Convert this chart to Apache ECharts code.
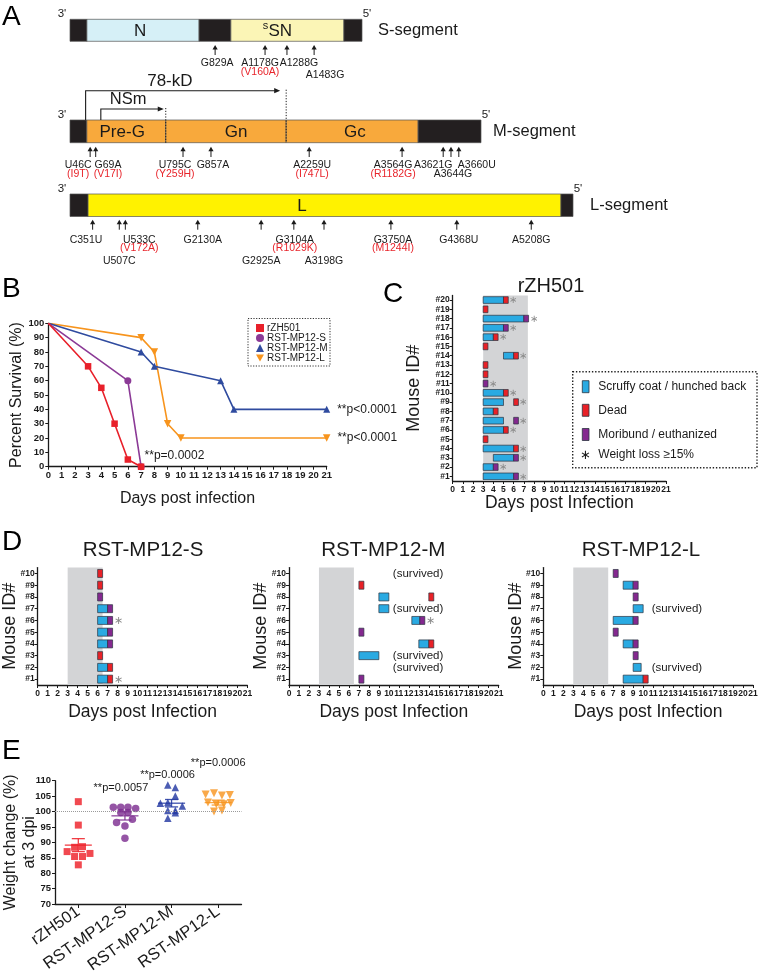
<!DOCTYPE html>
<html><head><meta charset="utf-8">
<script src="https://cdn.jsdelivr.net/npm/echarts@6/dist/echarts.min.js"></script>
<style>html,body{margin:0;padding:0;background:#fff}#c{width:760px;height:980px}</style>
</head><body><div id="c"></div>
<script>
// ================= DATA =================
// Panel A – genome schematic (positions: drawn position along each bar, % of bar length)
const sSegmentName = 'S-segment';
const sRegionNames = ['', 'N', '', 'sSN', ''];
const sRegionStart = [0, 5.8, 44.2, 55.1, 93.8];
const sRegionEnd   = [5.8, 44.2, 55.1, 93.8, 100];
const sMutations   = ['G829A', 'A1178G', 'A1288G', 'A1483G'];
const sMutationPos = [49.7, 66.8, 74.3, 83.6];
const sAminoAcid   = ['', '(V160A)', '', ''];

const mSegmentName = 'M-segment';
const mRegionNames = ['', 'Pre-G', 'Gn', 'Gc', ''];
const mRegionStart = [0, 4.1, 23.3, 52.6, 84.7];
const mRegionEnd   = [4.1, 23.3, 52.6, 84.7, 100];
const mMutations   = ['U46C', 'G69A', 'U795C', 'G857A', 'A2259U', 'A3564G', 'A3621G', 'A3644G', 'A3660U'];
const mMutationPos = [4.9, 6.25, 27.5, 34.3, 58.2, 80.8, 90.8, 92.7, 94.6];
const mAminoAcid   = ['(I9T)', '(V17I)', '(Y259H)', '', '(I747L)', '(R1182G)', '', '', ''];
const mProducts     = ['NSm', '78-kD'];
const mProductStart = [7.5, 3.8];
const mProductEnd   = [23.3, 52.6];

const lSegmentName = 'L-segment';
const lRegionNames = ['', 'L', ''];
const lRegionStart = [0, 3.6, 97.6];
const lRegionEnd   = [3.6, 97.6, 100];
const lMutations   = ['C351U', 'U507C', 'U533C', 'G2130A', 'G2925A', 'G3104A', 'A3198G', 'G3750A', 'G4368U', 'A5208G'];
const lMutationPos = [4.5, 9.8, 11.0, 25.4, 38.0, 44.5, 50.5, 63.8, 76.9, 91.7];
const lAminoAcid   = ['', '', '(V172A)', '', '', '(R1029K)', '', '(M1244I)', '', ''];

// Panel B – survival
const survivalGroups = ['rZH501', 'RST-MP12-S', 'RST-MP12-M', 'RST-MP12-L'];
const rzhDays = [0, 3, 4, 5, 6, 7];          const rzhSurvival = [100, 70, 55, 30, 5, 0];
const mp12sDays = [0, 6, 7];                 const mp12sSurvival = [100, 60, 0];
const mp12mDays = [0, 7, 8, 13, 14, 21];     const mp12mSurvival = [100, 80, 70, 60, 40, 40];
const mp12lDays = [0, 7, 8, 9, 10, 21];      const mp12lSurvival = [100, 90, 80, 30, 20, 20];
const survivalPValues = ['', '**p=0.0002', '**p<0.0001', '**p<0.0001'];
const dayTicks = [0, 21];

// Panel C – rZH501 clinical course (mouse #1 .. #20)
const cMouseIds  = ['#1','#2','#3','#4','#5','#6','#7','#8','#9','#10','#11','#12','#13','#14','#15','#16','#17','#18','#19','#20'];
const cSymStart  = [3, 3, 4, 3, null, 3, 3, 3, 3, 3, null, null, null, 5, null, 3, 3, 3, null, 3];
const cSymEnd    = [6, 4, 6, 6, null, 5, 5, 4, 5, 5, null, null, null, 6, null, 4, 5, 7, null, 5];
const cOutDay    = [6, 4, 6, 6, 3, 5, 6, 4, 6, 5, 3, 3, 3, 6, 3, 4, 5, 7, 3, 5];
const cOutcome   = ['M','M','M','D','D','D','M','D','D','D','M','D','D','D','D','D','M','M','D','D'];
const cWtLoss    = [1, 1, 1, 1, 0, 1, 1, 0, 1, 1, 1, 0, 0, 1, 0, 1, 1, 1, 0, 1];
const cShade     = [3, 7.4];

// Panel D – mouse #1 .. #10 for each reassortant
const dMouseIds = ['#1','#2','#3','#4','#5','#6','#7','#8','#9','#10'];
const dShade    = [3, 6.5];
const dsSymStart = [6, 6, null, 6, 6, 6, 6, null, null, null];
const dsSymEnd   = [7, 7, null, 7, 7, 7, 7, null, null, null];
const dsOutDay   = [7, 7, 6, 7, 7, 7, 7, 6, 6, 6];
const dsOutcome  = ['D','D','D','M','M','M','M','M','D','D'];
const dsWtLoss   = [1, 0, 0, 0, 0, 1, 0, 0, 0, 0];

const dmSymStart = [null, null, 7, 13, null, 12.3, 9, 9, null, null];
const dmSymEnd   = [null, null, 9, 14, null, 13.1, 10, 10, null, null];
const dmOutDay   = [7, null, null, 14, 7, 13.1, null, 14, 7, null];
const dmOutcome  = ['M','S','S','D','M','M','S','D','D','S'];
const dmWtLoss   = [0, 0, 0, 0, 0, 1, 0, 0, 0, 0];

const dlSymStart = [8, 9, null, 8, null, 7, 9, null, 8, null];
const dlSymEnd   = [10, 9.8, null, 9, null, 9, 10, null, 9, null];
const dlOutDay   = [10, null, 9, 9, 7, 9, null, 9, 9, 7];
const dlOutcome  = ['D','S','M','M','M','M','S','M','M','M'];
const dlWtLoss   = [0, 0, 0, 0, 0, 0, 0, 0, 0, 0];

// Panel E – weight change at 3 dpi
const eGroups = ['rZH501', 'RST-MP12-S', 'RST-MP12-M', 'RST-MP12-L'];
const eRzhWeight = [103.2, 95.6, 88.4, 88.6, 87.0, 86.4, 85.4, 85.4, 82.7];
const eRzhJitter = [0, 0, -0.08, 0.09, -0.24, 0.25, -0.08, 0.09, 0];
const eSWeight = [101.4, 101.4, 101.4, 101.0, 99.7, 99.7, 96.4, 97.5, 95.3, 91.3];
const eSJitter = [-0.25, -0.09, 0.065, 0.23, -0.09, 0.065, -0.18, 0.16, 0, 0];
const eMWeight = [108.6, 107.8, 105.0, 102.7, 102.9, 101.8, 100.3, 100.3, 99.6, 97.8];
const eMJitter = [-0.08, 0.08, 0.08, -0.24, -0.08, 0.23, -0.08, 0.08, 0.08, -0.08];
const eLWeight = [105.5, 105.9, 105.2, 105.4, 102.9, 102.4, 102.4, 102.8, 100.0, 100.3];
const eLJitter = [-0.27, -0.09, 0.08, 0.25, -0.22, -0.04, 0.12, 0.27, -0.09, 0.08];
const eMean = [89.1, 98.6, 102.7, 102.9];
const eSem  = [2.1, 1.35, 1.2, 0.8];
const ePValues = ['', '**p=0.0057', '**p=0.0006', '**p=0.0006'];
const eReference = 100;

// ================= STYLE / LAYOUT =================
const FONT = "'Liberation Sans', Arial, Helvetica, sans-serif";
const INK = '#1a1a1a';
const RED = '#e8202a', PURPLE = '#8b3a96', BLUE = '#2f4b9f', ORANGE = '#f7941d';
const E_COLORS = ['#ed1c24', '#7b2a8e', '#1f35a0', '#f7941d'];
const C_BLUE = '#2aaae2', C_RED = '#e82127', C_PURPLE = '#84288f', C_EDGE = '#2b3440';

const segLayout = {
  S: {gi: 0, fills: ['#231f20', '#d6f0f7', '#231f20', '#fbf5b6', '#231f20'], labelAt: [0, 24, 0, 72, 0],
      dx: [2, -5, 12, 11], row: [0, 0, 0, 1], rowDy: [21.7, 33.7], redDy: 30.7, tip: 3.7, tail: 13.7, nameDx: 16},
  M: {gi: 1, fills: ['#231f20', '#f8a93c', '#f8a93c', '#f8a93c', '#231f20'], labelAt: [0, 12.7, 40.4, 69.3, 0],
      dx: [-12, 12.3, -8, 2, 3, -9, -10, 2, 18], row: [0, 0, 0, 0, 0, 0, 0, 1, 0], rowDy: [22.3, 31.3], redDy: 31.3, tip: 4, tail: 14.3, nameDx: 12,
      rise: [11, 29.3], tipGap: [2, 6]},
  L: {gi: 2, fills: ['#231f20', '#fff200', '#231f20'], labelAt: [0, 46.1, 0],
      dx: [-6.6, 0, 14, 5, 0, 1, 0, 2, 2, 0], row: [0, 1, 0, 0, 1, 0, 1, 0, 0, 0], rowDy: [23.5, 45], redDy: 32, tip: 3.2, tail: 13.2, nameDx: 17}
};

function txt(x, y, text, size, o) {
  return Object.assign({type: 'text', x, y, style: Object.assign({text, fontSize: size, fontFamily: FONT, fill: INK, align: 'center', verticalAlign: 'middle'}, o || {})});
}

function segSeries(L, names, starts, ends, segName) {
  return {
    type: 'custom', xAxisIndex: L.gi, yAxisIndex: L.gi, silent: true, clip: false, z: 2,
    encode: {x: 0, y: 2},
    data: starts.map((s, i) => [s, ends[i], 0.5]),
    renderItem(params, api) {
      const i = params.dataIndex;
      const a = api.coord([api.value(0), 1]), b = api.coord([api.value(1), 0]);
      const ch = [{type: 'rect', shape: {x: a[0], y: a[1], width: b[0] - a[0], height: b[1] - a[1]},
                   style: {fill: L.fills[i], stroke: '#555', lineWidth: 0.7}}];
      const nm = names[i];
      if (nm) {
        const c = api.coord([L.labelAt[i], 0.5]);
        if (/^s[A-Z]/.test(nm)) {
          ch.push(txt(c[0], c[1] + 1, nm.slice(1), 17));
          ch.push(txt(c[0] - 12, c[1] - 4, nm[0], 11, {align: 'right'}));
        } else ch.push(txt(c[0], c[1] + 1, nm, 17));
      }
      if (i === 0) { const p = api.coord([0, 1]); ch.push(txt(p[0] - 8, p[1] - 5.5, "3'", 11.5)); }
      if (i === starts.length - 1) {
        const p = api.coord([100, 1]); ch.push(txt(p[0] + 5, p[1] - 5.5, "5'", 11.5));
        const q = api.coord([100, 0.5]); ch.push(txt(q[0] + L.nameDx, q[1], segName, 16.5, {align: 'left'}));
      }
      return {type: 'group', children: ch};
    }
  };
}

function mutSeries(L, pos, names, aa) {
  return {
    type: 'custom', xAxisIndex: L.gi, yAxisIndex: L.gi, silent: true, clip: false, z: 3,
    encode: {x: 0, y: 1},
    data: pos.map(p => [p, 0]),
    renderItem(params, api) {
      const i = params.dataIndex;
      const p = api.coord([api.value(0), 0]);
      const x = p[0], y0 = p[1];
      const ch = [
        {type: 'line', shape: {x1: x, y1: y0 + L.tip + 3, x2: x, y2: y0 + L.tail}, style: {stroke: INK, lineWidth: 1}},
        {type: 'polygon', shape: {points: [[x - 2.6, y0 + L.tip + 4.5], [x + 2.6, y0 + L.tip + 4.5], [x, y0 + L.tip]]}, style: {fill: INK}},
        txt(x + L.dx[i], y0 + L.rowDy[L.row[i]], names[i], 10.5)
      ];
      if (aa[i]) ch.push(txt(x + L.dx[i], y0 + L.redDy, aa[i], 10.5, {fill: '#e8242b'}));
      return {type: 'group', children: ch};
    }
  };
}

function productSeries(L, names, starts, ends) {
  return {
    type: 'custom', xAxisIndex: L.gi, yAxisIndex: L.gi, silent: true, clip: false, z: 4,
    encode: {x: 0, y: 2},
    data: starts.map((s, i) => [s, ends[i], 1]),
    renderItem(params, api) {
      const i = params.dataIndex;
      const a = api.coord([api.value(0), 1]), b = api.coord([api.value(1), 1]), bb = api.coord([api.value(1), 0]);
      const yh = a[1] - L.rise[i];
      const xt = b[0] - L.tipGap[i];
      return {type: 'group', children: [
        {type: 'polyline', shape: {points: [[a[0], a[1]], [a[0], yh], [xt - 5, yh]]}, style: {stroke: INK, lineWidth: 1.1, fill: 'none'}},
        {type: 'polygon', shape: {points: [[xt - 6, yh - 2.6], [xt - 6, yh + 2.6], [xt, yh]]}, style: {fill: INK}},
        {type: 'line', shape: {x1: b[0], y1: yh - 1, x2: b[0], y2: bb[1]}, style: {stroke: INK, lineWidth: 1, lineDash: [1.2, 1.6]}},
        txt(a[0] + (b[0] - a[0]) * 0.42, yh - 9.5, names[i], i === 0 ? 16.5 : 17)
      ]};
    }
  };
}

// ---------- axes helpers ----------
const axLine = {show: true, onZero: false, lineStyle: {color: INK, width: 1.3}};
const axTick = {show: true, length: 3, lineStyle: {color: INK, width: 1}};
function dayAxis(gi, name, gap, labelSize, nameSize) {
  return {type: 'value', gridIndex: gi, min: dayTicks[0], max: dayTicks[1], interval: 1,
    name, nameLocation: 'middle', nameGap: gap, nameMoveOverlap: false, nameTextStyle: {fontSize: nameSize, color: INK, fontFamily: FONT},
    axisLine: axLine, axisTick: axTick, splitLine: {show: false},
    axisLabel: {fontSize: labelSize, fontWeight: 'bold', color: INK, fontFamily: FONT, margin: 4, showMinLabel: true, showMaxLabel: true}};
}
function mouseAxis(gi, ids, gap) {
  return {type: 'category', gridIndex: gi, data: ids, name: 'Mouse ID#', nameLocation: 'middle', nameGap: gap, nameMoveOverlap: false,
    nameTextStyle: {fontSize: 18, color: INK, fontFamily: FONT},
    axisLine: axLine, axisTick: {show: true, length: 3, alignWithLabel: true, lineStyle: {color: INK}},
    axisLabel: {fontSize: 8.5, fontWeight: 'bold', color: INK, fontFamily: FONT, margin: 3, interval: 0}};
}

function shadeSeries(gi, range) {
  return {type: 'custom', xAxisIndex: gi, yAxisIndex: gi, silent: true, z: 1, encode: {x: 0, y: 1},
    data: [[range[0], 0, range[1]]],
    renderItem(params, api) {
      const cs = params.coordSys;
      const x0 = api.coord([api.value(0), 0])[0], x1 = api.coord([api.value(2), 0])[0];
      return {type: 'rect', shape: {x: x0, y: cs.y, width: x1 - x0, height: cs.height}, style: {fill: '#d3d4d6'}};
    }};
}

function mouseSeries(gi, symStart, symEnd, outDay, outcome, wt, survivedAt, o) {
  const data = outcome.map((oc, i) => [symStart[i] != null ? symStart[i] : (outDay[i] != null ? outDay[i] : survivedAt), i]);
  return {type: 'custom', xAxisIndex: gi, yAxisIndex: gi, silent: true, clip: false, z: 3, encode: {x: 0, y: 1}, data,
    renderItem(params, api) {
      const i = params.dataIndex;
      const band = api.size([0, 1])[1];
      const h = band * o.barFrac;
      const yc = api.coord([0, i])[1];
      const ch = [];
      let endX = null;
      if (symStart[i] != null) {
        const x0 = api.coord([symStart[i], i])[0], x1 = api.coord([symEnd[i], i])[0];
        ch.push({type: 'rect', shape: {x: x0, y: yc - h / 2, width: x1 - x0, height: h}, style: {fill: C_BLUE, stroke: C_EDGE, lineWidth: 0.7}});
        endX = x1;
      }
      if (outcome[i] === 'D' || outcome[i] === 'M') {
        const x0 = api.coord([outDay[i], i])[0], x1 = api.coord([outDay[i] + o.block, i])[0];
        ch.push({type: 'rect', shape: {x: x0, y: yc - h / 2, width: x1 - x0, height: h},
                 style: {fill: outcome[i] === 'D' ? C_RED : C_PURPLE, stroke: C_EDGE, lineWidth: 0.7}});
        endX = x1;
      }
      if (wt[i] && endX != null) ch.push(txt(endX + o.astGap, yc + 0.5, '\u2217', o.astSize, {fill: '#8a8a8a', align: 'left'}));
      if (outcome[i] === 'S') {
        const p = api.coord([survivedAt, i]);
        ch.push(txt(p[0], yc, '(survived)', 11.5, {align: 'left'}));
      }
      return {type: 'group', children: ch};
    }};
}

const downTri = 'path://M0,0L10,0L5,9Z';

// ---------- grids ----------
const grids = [
  {left: 70, top: 19.3, width: 292, height: 22},
  {left: 70, top: 120, width: 411, height: 22.7},
  {left: 70, top: 194, width: 503, height: 22.5},
  {left: 48.3, top: 323.3, width: 278.4, height: 143.4},
  {left: 452.7, top: 295.4, width: 213.3, height: 185.6},
  {left: 37.7, top: 567.6, width: 209.7, height: 117.4},
  {left: 289, top: 567.6, width: 209.7, height: 117.4},
  {left: 543.3, top: 567.6, width: 209.7, height: 117.4},
  {left: 55, top: 780.7, width: 186.5, height: 123.3}
].map(g => Object.assign(g, {containLabel: false, outerBoundsMode: 'none'}));

const xAxes = [
  {type: 'value', gridIndex: 0, min: 0, max: 100, show: false},
  {type: 'value', gridIndex: 1, min: 0, max: 100, show: false},
  {type: 'value', gridIndex: 2, min: 0, max: 100, show: false},
  dayAxis(3, 'Days post infection', 24, 9.5, 16),
  dayAxis(4, 'Days post Infection', 13, 8.5, 17.5),
  dayAxis(5, 'Days post Infection', 18.5, 8.5, 17.5),
  dayAxis(6, 'Days post Infection', 18.5, 8.5, 17.5),
  dayAxis(7, 'Days post Infection', 18.5, 8.5, 17.5),
  {type: 'category', gridIndex: 8, data: eGroups, axisLine: axLine,
   axisTick: {show: true, length: 4, alignWithLabel: true, lineStyle: {color: INK}},
   axisLabel: {rotate: 35, fontSize: 16.5, color: INK, fontFamily: FONT, margin: 6, interval: 0}},
  {type: 'value', gridIndex: 8, min: -0.5, max: 3.5, show: false, axisLine: {onZero: false}}
];
const yAxes = [
  {type: 'value', gridIndex: 0, min: 0, max: 1, show: false},
  {type: 'value', gridIndex: 1, min: 0, max: 1, show: false},
  {type: 'value', gridIndex: 2, min: 0, max: 1, show: false},
  {type: 'value', gridIndex: 3, min: 0, max: 100, interval: 10, name: 'Percent Survival (%)', nameLocation: 'middle', nameGap: 24, nameMoveOverlap: false,
   nameTextStyle: {fontSize: 16, color: INK, fontFamily: FONT}, axisLine: axLine, axisTick: axTick, splitLine: {show: false},
   axisLabel: {fontSize: 9.5, fontWeight: 'bold', color: INK, fontFamily: FONT, margin: 4}},
  mouseAxis(4, cMouseIds, 30),
  mouseAxis(5, dMouseIds, 18.5),
  mouseAxis(6, dMouseIds, 18.5),
  mouseAxis(7, dMouseIds, 18.5),
  {type: 'value', gridIndex: 8, min: 70, max: 110, interval: 5, name: 'Weight change (%)\nat 3 dpi', nameLocation: 'middle', nameGap: 15.5, nameMoveOverlap: false,
   nameTextStyle: {fontSize: 16, lineHeight: 19, color: INK, fontFamily: FONT, align: 'center'}, axisLine: axLine, axisTick: axTick, splitLine: {show: false},
   axisLabel: {fontSize: 9.5, fontWeight: 'bold', color: INK, fontFamily: FONT, margin: 4}}
];

// ---------- survival series ----------
function survSeries(name, days, surv, color, symbol, size, pIdx, labelOpt) {
  return {type: 'line', name, xAxisIndex: 3, yAxisIndex: 3, color, symbol, symbolSize: size, showAllSymbol: true,
    lineStyle: {width: 1.6, color}, itemStyle: {color}, z: 5 - pIdx * 0.1,
    data: days.map((d, i) => {
      const item = {value: [d, surv[i]]};
      if (i === 0) item.symbol = 'none';
      if (i === days.length - 1 && survivalPValues[pIdx]) {
        item.label = Object.assign({show: true, formatter: survivalPValues[pIdx], fontSize: 12, color: INK, fontFamily: FONT}, labelOpt);
      }
      return item;
    })};
}

const series = [
  segSeries(segLayout.S, sRegionNames, sRegionStart, sRegionEnd, sSegmentName),
  mutSeries(segLayout.S, sMutationPos, sMutations, sAminoAcid),
  segSeries(segLayout.M, mRegionNames, mRegionStart, mRegionEnd, mSegmentName),
  mutSeries(segLayout.M, mMutationPos, mMutations, mAminoAcid),
  productSeries(segLayout.M, mProducts, mProductStart, mProductEnd),
  segSeries(segLayout.L, lRegionNames, lRegionStart, lRegionEnd, lSegmentName),
  mutSeries(segLayout.L, lMutationPos, lMutations, lAminoAcid),

  survSeries(survivalGroups[1], mp12sDays, mp12sSurvival, PURPLE, 'circle', 7, 1, {position: 'right', distance: 0, offset: [0, -11]}),
  survSeries(survivalGroups[0], rzhDays, rzhSurvival, RED, 'rect', 6.5, 0, {}),
  survSeries(survivalGroups[2], mp12mDays, mp12mSurvival, BLUE, 'triangle', 7, 2, {position: 'right', distance: 7}),
  survSeries(survivalGroups[3], mp12lDays, mp12lSurvival, ORANGE, downTri, 7.5, 3, {position: 'right', distance: 7}),

  shadeSeries(4, cShade),
  mouseSeries(4, cSymStart, cSymEnd, cOutDay, cOutcome, cWtLoss, null, {barFrac: 0.72, block: 0.47, astGap: 1, astSize: 10}),
  shadeSeries(5, dShade),
  mouseSeries(5, dsSymStart, dsSymEnd, dsOutDay, dsOutcome, dsWtLoss, null, {barFrac: 0.68, block: 0.5, astGap: 1.5, astSize: 11}),
  shadeSeries(6, dShade),
  mouseSeries(6, dmSymStart, dmSymEnd, dmOutDay, dmOutcome, dmWtLoss, 10.4, {barFrac: 0.68, block: 0.5, astGap: 1.5, astSize: 11}),
  shadeSeries(7, dShade),
  mouseSeries(7, dlSymStart, dlSymEnd, dlOutDay, dlOutcome, dlWtLoss, 10.85, {barFrac: 0.68, block: 0.5, astGap: 1.5, astSize: 11}),
];

// ---------- panel E ----------
const eSets = [[eRzhWeight, eRzhJitter, 'rect', 7], [eSWeight, eSJitter, 'circle', 7.5], [eMWeight, eMJitter, 'triangle', 7.5], [eLWeight, eLJitter, downTri, 8]];
eSets.forEach((s, g) => {
  const ser = {type: 'scatter', xAxisIndex: 9, yAxisIndex: 8, symbol: s[2], symbolSize: s[3], itemStyle: {color: E_COLORS[g]}, z: 4,
    data: s[0].map((w, i) => [g + s[1][i], w])};
  if (g === 0) ser.markLine = {silent: true, symbol: 'none', label: {show: false}, animation: false,
    lineStyle: {type: 'dotted', color: '#9a9a9a', width: 1}, data: [{yAxis: eReference}]};
  series.push(ser);
});
series.push({type: 'custom', xAxisIndex: 9, yAxisIndex: 8, silent: true, z: 5,
  dimensions: ['grp', 'mean', 'sem'], encode: {x: 'grp', y: 'mean'},
  data: eMean.map((m, i) => [i, m, eSem[i]]),
  renderItem(params, api) {
    const i = params.dataIndex, x = api.value(0), m = api.value(1), s = api.value(2);
    const c = api.coord([x, m]), t = api.coord([x, m + s]), b = api.coord([x, m - s]);
    const bw = api.size([1, 0])[0];
    const st = {stroke: E_COLORS[i], lineWidth: 1.3, opacity: 0.85};
    return {type: 'group', children: [
      {type: 'line', shape: {x1: c[0] - bw * 0.29, y1: c[1], x2: c[0] + bw * 0.29, y2: c[1]}, style: st},
      {type: 'line', shape: {x1: c[0], y1: t[1], x2: c[0], y2: b[1]}, style: st},
      {type: 'line', shape: {x1: c[0] - bw * 0.14, y1: t[1], x2: c[0] + bw * 0.14, y2: t[1]}, style: st},
      {type: 'line', shape: {x1: c[0] - bw * 0.14, y1: b[1], x2: c[0] + bw * 0.14, y2: b[1]}, style: st}
    ]};
  }});
const ePLabelDy = [0, 7, -5.7, -18], ePLabelDx = [0, -4, -4, 0];
series.push({type: 'custom', xAxisIndex: 9, yAxisIndex: 8, silent: true, clip: false, z: 5, encode: {x: 0, y: 1},
  data: ePValues.map((p, i) => [i, 110]),
  renderItem(params, api) {
    const i = params.dataIndex;
    if (!ePValues[i]) return null;
    const c = api.coord([api.value(0), api.value(1)]);
    return txt(c[0] + ePLabelDx[i], c[1] + ePLabelDy[i], ePValues[i], 11);
  }});

// ---------- graphics: panel letters, titles, legends ----------
const G = [];
[['A', 2, 17], ['B', 2, 289], ['C', 383, 294], ['D', 2, 542], ['E', 2, 751]].forEach(l =>
  G.push({type: 'text', x: l[1], y: l[2], style: {text: l[0], fontSize: 28, fontFamily: FONT, fill: '#000', verticalAlign: 'middle'}}));
G.push({type: 'text', x: 551, y: 286, style: {text: 'rZH501', fontSize: 20, fontFamily: FONT, fill: INK, align: 'center', verticalAlign: 'middle'}});
[['RST-MP12-S', 143], ['RST-MP12-M', 383.3], ['RST-MP12-L', 641]].forEach(t =>
  G.push({type: 'text', x: t[1], y: 550, style: {text: t[0], fontSize: 20.5, fontFamily: FONT, fill: INK, align: 'center', verticalAlign: 'middle'}}));
// legend frame B
G.push({type: 'rect', shape: {x: 248, y: 318.5, width: 82, height: 47.5}, style: {fill: 'none', stroke: '#333', lineWidth: 1, lineDash: [1.2, 1.5]}});
// legend C
const cLegend = [['Scruffy coat / hunched back', C_BLUE, 386.7], ['Dead', C_RED, 410.3], ['Moribund / euthanized', C_PURPLE, 434.5]];
G.push({type: 'rect', shape: {x: 572.7, y: 371.7, width: 184.3, height: 96}, style: {fill: 'none', stroke: '#222', lineWidth: 1.4, lineDash: [1.4, 1.8]}});
cLegend.forEach(it => {
  G.push({type: 'rect', shape: {x: 582.3, y: it[2] - 6, width: 6.7, height: 12}, style: {fill: it[1], stroke: C_EDGE, lineWidth: 0.8}});
  G.push({type: 'text', x: 598.3, y: it[2], style: {text: it[0], fontSize: 12, fontFamily: FONT, fill: INK, verticalAlign: 'middle'}});
});
G.push({type: 'text', x: 585.6, y: 455.5, style: {text: '\u2217', fontSize: 13, fontFamily: FONT, fill: INK, align: 'center', verticalAlign: 'middle'}});
G.push({type: 'text', x: 598.3, y: 455, style: {text: 'Weight loss \u226515%', fontSize: 12, fontFamily: FONT, fill: INK, verticalAlign: 'middle'}});

const chart = echarts.init(document.getElementById('c'), null, {renderer: 'canvas', width: 760, height: 980});
chart.setOption({
  animation: false,
  backgroundColor: '#fff',
  textStyle: {fontFamily: FONT},
  grid: grids, xAxis: xAxes, yAxis: yAxes, series,
  legend: {show: true, orient: 'vertical', left: 251, top: 318, itemWidth: 8, itemHeight: 8, itemGap: 0, selectedMode: false,
    textStyle: {fontSize: 10, color: INK, fontFamily: FONT, padding: [0, 0, 0, -2]},
    data: [{name: 'rZH501', icon: 'rect'}, {name: 'RST-MP12-S', icon: 'circle'}, {name: 'RST-MP12-M', icon: 'triangle'}, {name: 'RST-MP12-L', icon: downTri}]},
  graphic: {elements: G}
});
</script></body></html>
